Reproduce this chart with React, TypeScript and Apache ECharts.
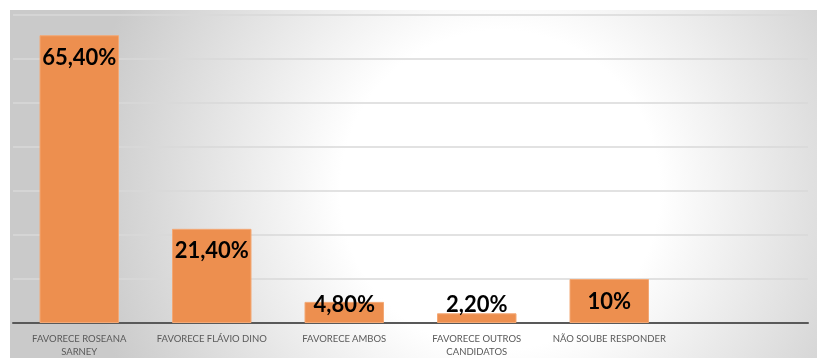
import React, { useEffect, useRef } from "react";
import * as echarts from "echarts";

const categories = [
  "FAVORECE ROSEANA\nSARNEY",
  "FAVORECE FLÁVIO DINO",
  "FAVORECE AMBOS",
  "FAVORECE OUTROS\nCANDIDATOS",
  "NÃO SOUBE RESPONDER",
  "",
];
const values = [65.4, 21.4, 4.8, 2.2, 10, null];
const valueLabels = ["65,40%", "21,40%", "4,80%", "2,20%", "10%", ""];

export default function App() {
  const ref = useRef<HTMLDivElement>(null);
  useEffect(() => {
    if (!ref.current) return;
    const chart = echarts.init(ref.current, undefined, { renderer: "svg" });
    const data = values.map((v) => ({
      value: v,
      label: {
        position: v !== null && v < 8 ? "insideBottom" : "insideTop",
        distance: v !== null && v < 8 ? 9 : 10,
      },
    }));
    chart.setOption({
      animation: false,
      graphic: [
        {
          type: "rect",
          z: -10,
          silent: true,
          shape: { x: 10, y: 10, width: 807, height: 348 },
          style: {
            fill: {
              type: "radial",
              x: 500,
              y: 190,
              r: 420,
              global: true,
              colorStops: [
                { offset: 0, color: "#ffffff" },
                { offset: 0.38, color: "#ffffff" },
                { offset: 1, color: "#cacaca" },
              ],
            },
          },
        },
      ],
      grid: { left: 13, right: 9, top: 15, bottom: 34, containLabel: false },
      xAxis: {
        type: "category",
        data: categories,
        axisLine: { lineStyle: { color: "#595959", width: 2 } },
        axisTick: { show: false },
        axisLabel: {
          color: "#595959",
          fontFamily: "Lato",
          fontSize: 9.5,
          lineHeight: 13,
          margin: 9,
          interval: 0,
        },
      },
      yAxis: {
        type: "value",
        min: 0,
        max: 70,
        interval: 10,
        axisLabel: { show: false },
        axisLine: { show: false },
        axisTick: { show: false },
        splitLine: { lineStyle: { color: "#d9d9d9", width: 1.5 } },
      },
      series: [
        {
          type: "bar",
          data,
          barWidth: "60%",
          itemStyle: { color: "#ED8F4F", borderColor: "#F3A875", borderWidth: 1 },
          label: {
            show: true,
            color: "#000000",
            fontFamily: "Lato",
            fontWeight: "bold",
            fontSize: 22,
            formatter: (p: any) => valueLabels[p.dataIndex],
          },
        },
      ],
    });
    return () => chart.dispose();
  }, []);
  return (
    <div
      ref={ref}
      style={{ position: "fixed", left: 0, top: 0, width: 817, height: 358 }}
    />
  );
}
